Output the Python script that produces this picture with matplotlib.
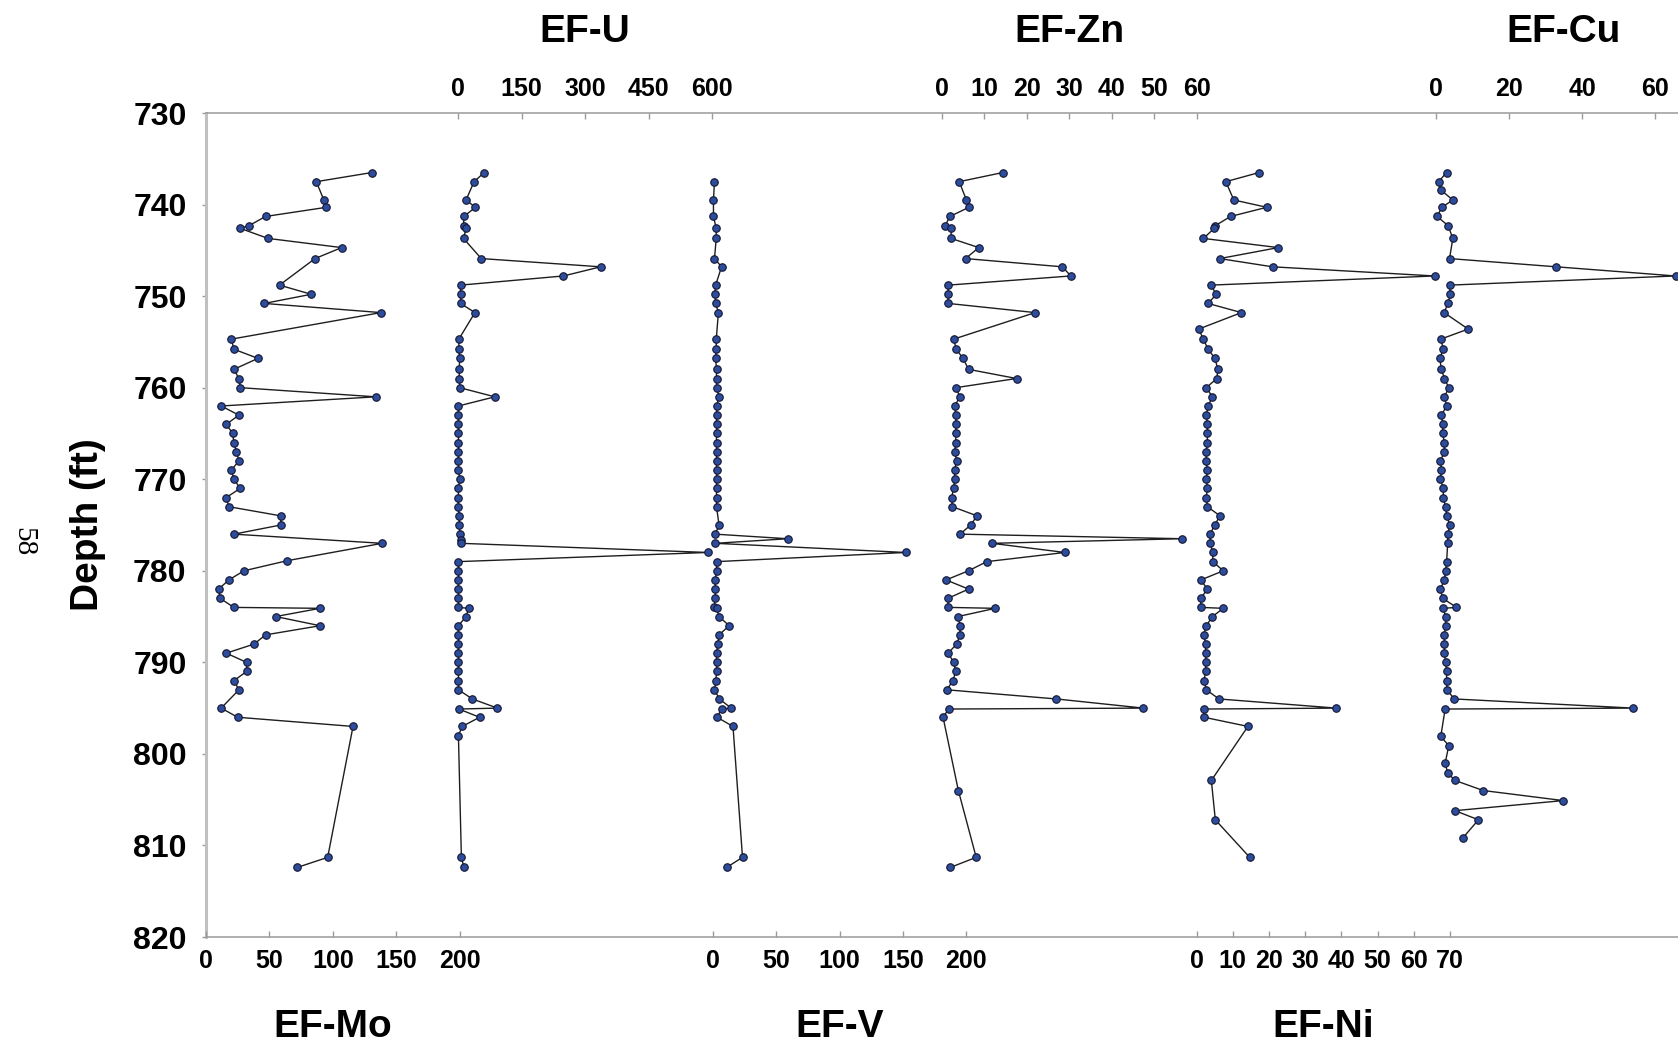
import matplotlib.pyplot as plt

# depth (ft) and enrichment factor for each element
mo_depth = [736.5, 737.5, 739.5, 740.3, 741.3, 742.3, 742.6, 743.7, 744.7, 745.9,
            748.8, 749.8, 750.8, 751.8, 754.7, 755.8, 756.8, 758.0, 759.0, 760.0,
            761.0, 762.0, 763.0, 764.0, 765.0, 766.0, 767.0, 768.0, 769.0, 770.0,
            771.0, 772.0, 773.0, 774.0, 775.0, 776.0, 777.0, 778.9, 780.0, 781.0,
            782.0, 783.0, 784.0, 784.1, 785.0, 786.0, 787.0, 788.0, 789.0, 790.0,
            791.0, 792.0, 793.0, 795.0, 796.0, 797.0, 811.3, 812.4]
mo_ef = [131, 87, 93, 95, 47, 34, 27, 49, 107, 86,
         58, 83, 46, 138, 20, 22, 41, 22, 26, 27,
         134, 12, 26, 16, 21, 22, 24, 26, 20, 22,
         27, 16, 18, 59, 59, 22, 139, 64, 30, 18,
         10, 11, 22, 90, 55, 90, 47, 38, 16, 32,
         32, 22, 26, 12, 25, 116, 96, 72]

u_depth = [736.5, 737.5, 739.5, 740.3, 741.3, 742.3, 742.6, 743.7, 745.9, 746.8,
           747.8, 748.8, 749.8, 750.8, 751.8, 754.7, 755.8, 756.8, 758.0, 759.0,
           760.0, 761.0, 762.0, 763.0, 764.0, 765.0, 766.0, 767.0, 768.0, 769.0,
           770.0, 771.0, 772.0, 773.0, 774.0, 775.0, 776.0, 776.6, 777.0, 778.0,
           779.0, 780.0, 781.0, 782.0, 783.0, 784.0, 784.1, 785.0, 786.0, 787.0,
           788.0, 789.0, 790.0, 791.0, 792.0, 793.0, 794.0, 795.0, 795.1, 796.0,
           797.0, 798.0, 811.3, 812.4]
u_ef = [62, 38, 19, 41, 14, 13, 19, 13, 55, 337,
        249, 6, 6, 6, 40, 2, 2, 4, 3, 3,
        4, 87, 1, 1, 1, 1, 1, 1, 1, 1,
        4, 1, 1, 0, 3, 3, 4, 6, 6, 590,
        1, 1, 1, 1, 1, 1, 25, 19, 1, 1,
        1, 1, 1, 1, 1, 1, 34, 93, 2, 51,
        10, 1, 8, 14]

v_depth = [737.5, 739.5, 741.3, 742.6, 743.7, 745.9, 746.8, 748.8, 749.8, 750.8,
           751.8, 754.7, 755.8, 756.8, 758.0, 759.0, 760.0, 761.0, 762.0, 763.0,
           764.0, 765.0, 766.0, 767.0, 768.0, 769.0, 770.0, 771.0, 772.0, 773.0,
           775.0, 776.0, 776.5, 777.0, 778.0, 779.0, 780.0, 781.0, 782.0, 783.0,
           784.0, 784.1, 785.0, 786.0, 787.0, 788.0, 789.0, 790.0, 791.0, 792.0,
           793.0, 794.0, 795.0, 795.1, 796.0, 797.0, 811.3, 812.4]
v_ef = [1.4, 0.6, 0.6, 2.8, 2.8, 1.4, 7, 2.3, 1.7, 2.3,
        4.5, 2.8, 2.8, 2.3, 3, 3, 3, 5, 3, 3,
        3, 3, 3, 3, 3, 3, 3, 3, 3, 3,
        5, 2, 59, 2, 152, 3, 3, 2, 2, 2,
        1, 3, 5, 13, 5, 4, 3, 3, 3, 2.5,
        1.4, 5.3, 14.5, 7, 3.4, 16, 23.5, 11]

zn_depth = [736.5, 737.5, 739.5, 740.3, 741.3, 742.3, 742.6, 743.7, 744.7, 745.9,
            746.8, 747.8, 748.8, 749.8, 750.8, 751.8, 754.7, 755.8, 756.8, 758.0,
            759.0, 760.0, 761.0, 762.0, 763.0, 764.0, 765.0, 766.0, 767.0, 768.0,
            769.0, 770.0, 771.0, 772.0, 773.0, 774.0, 775.0, 776.0, 776.5, 777.0,
            778.0, 779.0, 780.0, 781.0, 782.0, 783.0, 784.0, 784.1, 785.0, 786.0,
            787.0, 788.0, 789.0, 790.0, 791.0, 792.0, 793.0, 794.0, 795.0, 795.1,
            796.0, 804.0, 811.3, 812.4]
zn_ef = [14.4, 4.1, 5.8, 6.4, 1.9, 0.8, 2.2, 2.2, 8.7, 5.6,
         28.4, 30.4, 1.5, 1.5, 1.5, 22, 2.8, 3.4, 5, 6.3,
         17.6, 3.3, 4.3, 3, 3.3, 3.3, 3.3, 3.3, 3, 3.5,
         3, 3, 2.8, 2.3, 2.5, 8.3, 6.8, 4.3, 56.7, 11.8,
         29, 10.6, 6.3, 1, 6.3, 1.5, 1.5, 12.6, 3.8, 4.3,
         4.3, 3.5, 1.5, 2.8, 3.3, 2.6, 1.2, 27, 47.5, 1.6,
         0.3, 3.9, 8.1, 2]

ni_depth = [736.5, 737.5, 739.5, 740.3, 741.3, 742.3, 742.6, 743.7, 744.7, 745.9,
            746.8, 747.8, 748.8, 749.8, 750.8, 751.8, 753.6, 754.7, 755.8, 756.8,
            758.0, 759.0, 760.0, 761.0, 762.0, 763.0, 764.0, 765.0, 766.0, 767.0,
            768.0, 769.0, 770.0, 771.0, 772.0, 773.0, 774.0, 775.0, 776.0, 777.0,
            778.0, 779.0, 780.0, 781.0, 782.0, 783.0, 784.0, 784.1, 785.0, 786.0,
            787.0, 788.0, 789.0, 790.0, 791.0, 792.0, 793.0, 794.0, 795.0, 795.1,
            796.0, 797.0, 802.9, 807.2, 811.3]
ni_ef = [17.3, 8.1, 10.3, 19.4, 9.4, 5.2, 4.9, 1.9, 22.6, 6.4,
         21, 65.8, 3.9, 5.5, 3.2, 12.4, 0.6, 1.9, 3.2, 5.1,
         5.9, 5.6, 2.7, 4.4, 3.2, 2.7, 3, 3, 3, 2.7,
         2.7, 3, 2.7, 3, 2.7, 3, 6.5, 5, 3.8, 3.8,
         4.5, 4.5, 7.4, 1.2, 3, 1.2, 1.2, 7.4, 4.4, 2.7,
         2, 2.5, 2.5, 2.5, 2.5, 2.1, 2.7, 6.2, 38.6, 2.1,
         2.1, 14.2, 4.1, 5.2, 14.7]

cu_depth = [736.5, 737.5, 738.4, 739.5, 740.3, 741.3, 742.3, 743.7, 745.9, 746.8,
            747.8, 748.8, 749.8, 750.8, 751.8, 753.6, 754.7, 755.8, 756.8, 758.0,
            759.0, 760.0, 761.0, 762.0, 763.0, 764.0, 765.0, 766.0, 767.0, 768.0,
            769.0, 770.0, 771.0, 772.0, 773.0, 774.0, 775.0, 776.0, 777.0, 779.0,
            780.0, 781.0, 782.0, 783.0, 784.0, 784.1, 785.0, 786.0, 787.0, 788.0,
            789.0, 790.0, 791.0, 792.0, 793.0, 794.0, 795.0, 795.1, 798.1, 799.1,
            801.0, 802.1, 802.9, 804.0, 805.1, 806.2, 807.2, 809.2]
cu_ef = [2.9, 0.7, 1.3, 4.6, 1.6, 0.3, 3.3, 4.6, 3.7, 32.9,
         65.5, 3.7, 3.9, 3.3, 2.2, 8.8, 1.3, 2, 1, 1.5,
         2.3, 3.5, 2.3, 2.9, 1.5, 1.8, 1.8, 2.3, 2.3, 1.2,
         1.5, 1.2, 2, 2, 2.6, 2.9, 3.8, 3.2, 3.2, 2.9,
         2.6, 2.3, 1.2, 1.8, 5.6, 2, 2.6, 2.6, 2.3, 2.3,
         2.3, 2.6, 2.9, 2.9, 3, 5, 54, 2.5, 1.3, 3.5,
         2.5, 3.2, 5.2, 12.9, 34.8, 5.2, 11.6, 7.3]

plt.rcParams['font.family'] = ['Liberation Sans', 'DejaVu Sans']
plt.rcParams['font.weight'] = 'bold'

W, H = 1678, 1043


def fx(px):
    return px / W


def fy(px):
    return 1 - px / H


fig = plt.figure(figsize=(W / 100, H / 100), dpi=100)
top, bottom = 113, 937
axis_grey = '#9a9a9a'

# frame with the depth axis
ax = fig.add_axes([fx(206), fy(bottom), 1 - fx(206), fy(top) - fy(bottom)])
ax.set_ylim(820, 730)
ax.set_yticks(range(730, 821, 10))
ax.set_xticks([])
ax.spines['right'].set_visible(False)
ax.spines['left'].set_color('#c0c0c0')
ax.spines['left'].set_linewidth(2.2)
for s in ('top', 'bottom'):
    ax.spines[s].set_color(axis_grey)
    ax.spines[s].set_linewidth(1.1)
ax.tick_params(axis='y', direction='out', length=3, width=1, color=axis_grey,
               labelsize=23, pad=11)

fig.text(fx(88), fy(525), 'Depth (ft)', rotation=90, ha='center', va='center',
         fontsize=28, fontweight='bold')
fig.text(fx(23), fy(542), '58', rotation=-90, ha='center', va='center',
         fontsize=21, fontweight='normal', family='Liberation Serif')

# one strip per element: x scale sits either on the top or bottom edge
panels = [
    ('EF-Mo', mo_depth, mo_ef, 200, [0, 50, 100, 150, 200], 206, 459.5, 'bottom'),
    ('EF-U', u_depth, u_ef, 600, [0, 150, 300, 450, 600], 458, 712, 'top'),
    ('EF-V', v_depth, v_ef, 200, [0, 50, 100, 150, 200], 712.7, 966.4, 'bottom'),
    ('EF-Zn', zn_depth, zn_ef, 60, [0, 10, 20, 30, 40, 50, 60], 941.8, 1196.5, 'top'),
    ('EF-Ni', ni_depth, ni_ef, 70, [0, 10, 20, 30, 40, 50, 60, 70], 1196.5, 1450, 'bottom'),
    ('EF-Cu', cu_depth, cu_ef, 70, [0, 20, 40, 60], 1436, 1692, 'top'),
]

for name, depth, ef, xmax, ticks, x0, x1, side in panels:
    pax = fig.add_axes([fx(x0), fy(bottom), fx(x1) - fx(x0), fy(top) - fy(bottom)])
    pax.patch.set_visible(False)
    for s in pax.spines.values():
        s.set_visible(False)
    pax.set_xlim(0, xmax)
    pax.set_ylim(820, 730)
    pax.set_yticks([])
    pax.set_xticks(ticks)
    pax.plot(ef, depth, color='#1e1e1e', lw=1.0, marker='o', ms=5.4,
             mfc='#2c4d9c', mec='#151530', mew=0.8, clip_on=False)
    if side == 'top':
        pax.xaxis.tick_top()
        pax.tick_params(axis='x', direction='in', length=4.5, width=1,
                        color=axis_grey, labelsize=18, pad=9)
        fig.text(fx((x0 + x1) / 2), fy(42), name, ha='center', va='baseline',
                 fontsize=28, fontweight='bold')
    else:
        pax.tick_params(axis='x', direction='in', length=4.5, width=1,
                        color=axis_grey, labelsize=18, pad=9)
        fig.text(fx((x0 + x1) / 2), fy(1037), name, ha='center', va='baseline',
                 fontsize=28, fontweight='bold')

fig.savefig('out.png', dpi=100)
